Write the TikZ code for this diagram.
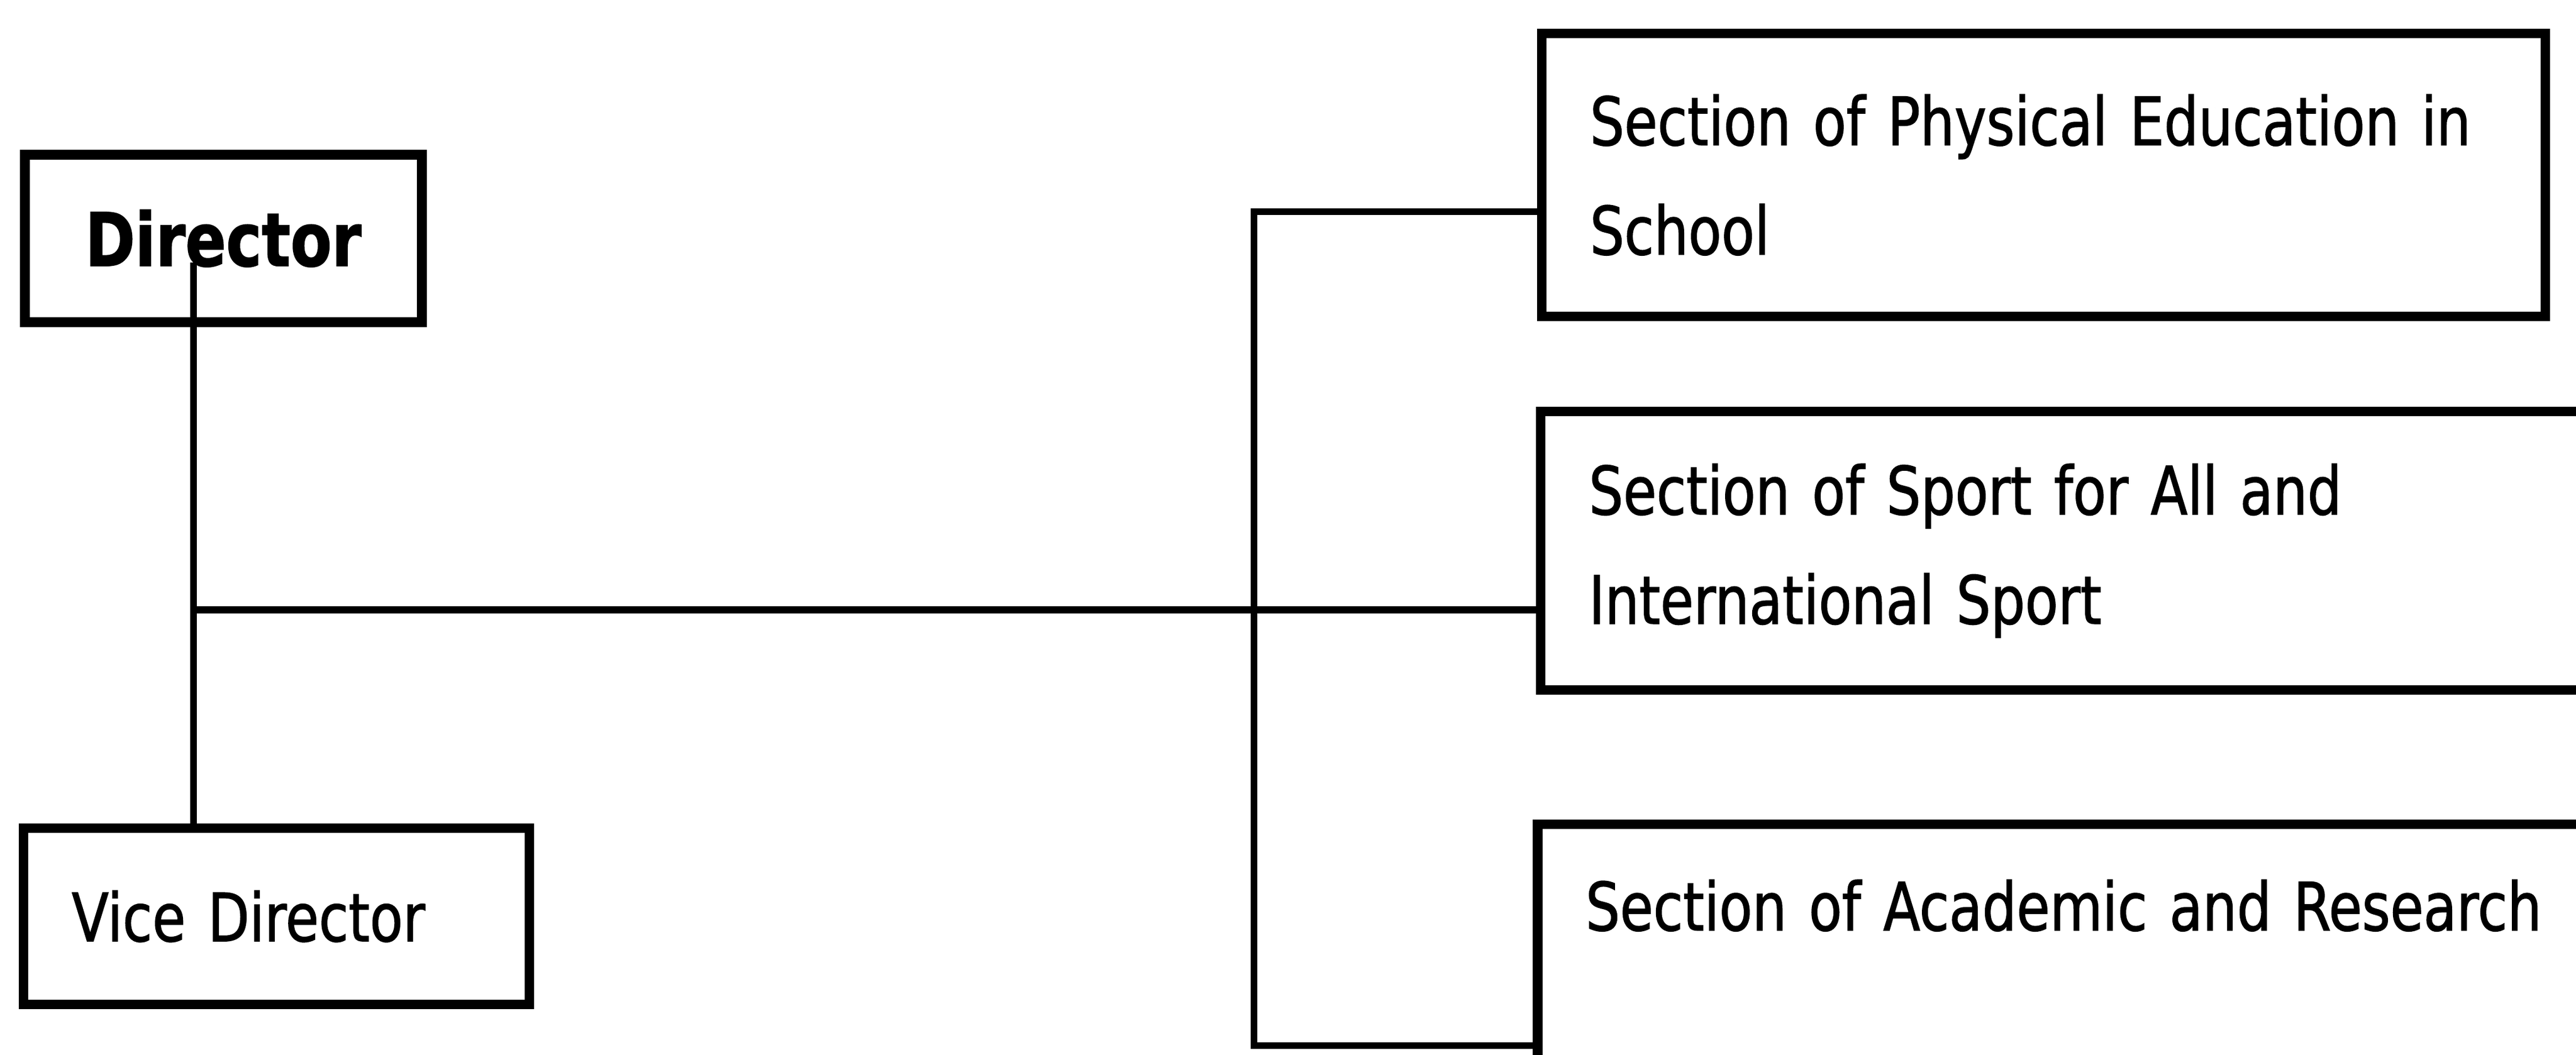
\documentclass[tikz,border=0pt]{standalone}
\usepackage{fontspec}
\setmainfont{DejaVu Sans}[FakeStretch=0.81, FakeBold=1.2]
\tikzset{
        org box/.style={draw, rectangle, line width=2.6pt, anchor=north west,
        inner xsep=0.456cm, align=left,
        font=\fontsize{18pt}{29.5pt}\selectfont}, % boxes of the chart
        link/.style={line width=1.9pt, line cap=rect}
    }

\begin{document}
\begin{tikzpicture}[
  head box/.style={
    org box, anchor=center, align=center,
    font=\fontsize{20pt}{24pt}\selectfont\bfseries},
  open box/.style={
    org box, inner ysep=0.456cm, text height=0.55cm, text depth=3cm},
]
\clip (0,0) rectangle (24.4055,-10);
% left column
\node[head box, minimum width=3.76cm, minimum height=1.587cm] (director) at (2.116,-2.26) {Director};
\node[org box, text width=3.88cm, minimum height=1.671cm] (vice) at (0.178,-7.805) {Vice Director};
% right column, the last two run past the page
\node[org box, text width=8.596cm, minimum height=2.682cm] (school) at (14.562,-0.272)
  {Section of Physical Education in\\School};
\node[org box, text width=9.536cm, minimum height=2.64cm] (sport) at (14.552,-3.855)
  {Section of Sport for All and\\International Sport};
\node[open box, text width=9.5cm] (research) at (14.521,-7.768)
  {Section of Academic and Research};
% junctions
\coordinate (hub) at (1.833,-5.78);
\coordinate (ttop) at (11.88,-2.006);
\coordinate (tbot) at (11.88,-9.911);
\draw[link] (hub |- director.base) -- (hub |- vice.north);
\draw[link] (hub) -- (hub -| sport.west);
\draw[link] (school.west |- ttop) -- (ttop) -- (tbot) -- (tbot -| research.west);
\end{tikzpicture}
\end{document}
